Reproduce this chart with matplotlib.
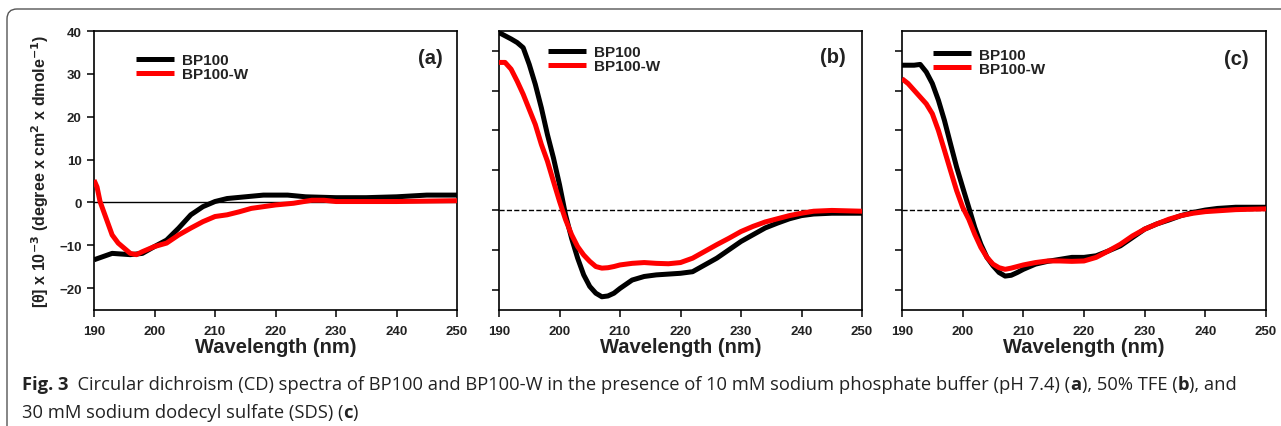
import numpy as np
import matplotlib.pyplot as plt
from matplotlib.path import Path
from matplotlib.patches import PathPatch

# -----------------------------
# DATA
# -----------------------------
# (a) 10 mM sodium phosphate buffer
wl_a_bp = [190, 193, 196, 198, 200, 202, 204, 206, 208, 210, 212, 215, 218, 222,
           225, 230, 235, 240, 245, 250]
cd_a_bp = [-13.4, -11.9, -12.2, -11.9, -10.3, -8.8, -6.0, -2.9, -1.0, 0.2, 0.9, 1.3,
           1.7, 1.7, 1.3, 1.1, 1.1, 1.3, 1.7, 1.7]
wl_a_w = [190, 190.5, 191, 192, 193, 194, 195, 196, 197, 198, 200, 202, 204, 206,
          208, 210, 212, 214, 216, 218, 220, 223, 226, 228, 230, 240, 250]
cd_a_w = [5.2, 3.6, 0.2, -3.7, -7.6, -9.5, -10.7, -11.9, -12.2, -11.5, -10.3, -9.5,
          -7.6, -6.0, -4.5, -3.3, -2.9, -2.2, -1.4, -1.0, -0.6, -0.2, 0.5, 0.5, 0.2,
          0.2, 0.4]

# (b) 50% TFE
wl_b = [190, 191, 192, 193, 194, 195, 196, 197, 198, 199, 200, 201, 202, 203, 204,
        205, 206, 207, 208, 209, 210, 212, 214, 216, 218, 220, 222, 224, 226, 228,
        230, 232, 234, 236, 238, 240, 242, 245, 250]
cd_b_bp = [44.6, 43.8, 43.0, 42.1, 40.8, 36.6, 31.6, 25.7, 19.0, 13.1, 6.4, -1.2,
           -7.1, -12.1, -16.3, -19.2, -20.9, -21.8, -21.6, -20.9, -19.7, -17.6,
           -16.7, -16.3, -16.1, -15.9, -15.5, -13.8, -12.1, -10.0, -7.9, -6.2, -4.5,
           -3.3, -2.2, -1.4, -1.0, -0.8, -0.8]
cd_b_w = [37.1, 37.1, 35.4, 32.4, 29.1, 25.3, 21.5, 16.5, 12.3, 7.2, 2.2, -2.4,
          -6.2, -9.2, -11.3, -12.9, -14.2, -14.6, -14.5, -14.2, -13.8, -13.4,
          -13.2, -13.4, -13.5, -13.2, -12.1, -10.4, -8.7, -7.1, -5.4, -4.1, -3.0,
          -2.2, -1.4, -0.8, -0.3, -0.1, -0.3]

# (c) 30 mM SDS
wl_c = [190, 191, 192, 193, 194, 195, 196, 197, 198, 199, 200, 201, 202, 203, 204,
        205, 206, 207, 208, 209, 210, 212, 214, 216, 218, 220, 222, 224, 226, 228,
        230, 232, 234, 236, 238, 240, 242, 245, 250]
cd_c_bp = [36.4, 36.4, 36.4, 36.6, 34.7, 31.8, 27.6, 22.5, 16.6, 10.8, 5.7, 0.7,
           -4.4, -8.6, -11.9, -14.0, -15.7, -16.6, -16.4, -15.7, -14.9, -13.6,
           -12.9, -12.4, -11.9, -11.9, -11.5, -10.3, -9.0, -6.9, -4.8, -3.5, -2.5,
           -1.4, -0.6, 0.0, 0.4, 0.7, 0.7]
cd_c_w = [33.0, 31.8, 30.1, 28.4, 26.7, 24.2, 20.0, 15.0, 9.9, 4.9, 0.7, -2.3, -6.1,
          -9.4, -11.9, -13.6, -14.5, -14.9, -14.6, -14.2, -13.8, -13.2, -12.8,
          -12.8, -12.9, -12.8, -11.9, -10.3, -8.6, -6.5, -4.8, -3.5, -2.3, -1.4,
          -0.8, -0.4, -0.2, 0.1, 0.3]

panel_tags = ["(a)", "(b)", "(c)"]
series_names = ["BP100", "BP100-W"]
x_ticks = [190, 200, 210, 220, 230, 240, 250]
y_ticks = [-20, -10, 0, 10, 20, 30, 40]

caption_1 = ("Circular dichroism (CD) spectra of BP100 and BP100-W in the presence of "
             "10 mM sodium phosphate buffer (pH 7.4) (")
caption_2 = "30 mM sodium dodecyl sulfate (SDS) ("

# -----------------------------
# FIGURE
# -----------------------------
W, H = 1281, 427
fig = plt.figure(figsize=(W / 100, H / 100), dpi=100)


def fx(px):
    return px / W


def fy(py):
    return 1 - py / H


# open frame: left + top edge with a rounded corner
rad = 10
verts = [(fx(7), fy(H + 5)), (fx(7), fy(10 + rad)), (fx(7), fy(10)),
         (fx(7 + rad), fy(10)), (fx(W + 5), fy(10))]
codes = [Path.MOVETO, Path.LINETO, Path.CURVE3, Path.CURVE3, Path.LINETO]
fig.patches.append(PathPatch(Path(verts, codes), transform=fig.transFigure,
                             fill=False, edgecolor="#555555", lw=1.0))

lefts = [94, 499, 902]
widths = [363, 363, 364]
ax_top, ax_bot = 32, 310.5
panels = [
    (wl_a_bp, cd_a_bp, wl_a_w, cd_a_w, (-25, 40), "-"),
    (wl_b, cd_b_bp, wl_b, cd_b_w, (-25, 45), "--"),
    (wl_c, cd_c_bp, wl_c, cd_c_w, (-25, 45), "--"),
]
legend_anchor = [(0.116, 0.869), (0.135, 0.899), (0.085, 0.890)]
tag_pos = [(0.961, 0.906), (0.956, 0.910), (0.953, 0.903)]

for i, (x1, y1, x2, y2, ylim, zstyle) in enumerate(panels):
    ax = fig.add_axes([fx(lefts[i]), fy(ax_bot), widths[i] / W, (ax_bot - ax_top) / H])
    ax.axhline(0, color="black", lw=1.0, ls=zstyle, zorder=1)
    ax.plot(x1, y1, color="black", lw=3.6, label=series_names[0], zorder=3,
            solid_capstyle="butt")
    ax.plot(x2, y2, color="#ff0000", lw=3.6, label=series_names[1], zorder=4,
            solid_capstyle="butt")
    ax.set_xlim(190, 250)
    ax.set_ylim(*ylim)
    ax.set_xticks(x_ticks)
    ax.set_yticks(y_ticks)
    ax.tick_params(direction="out", length=5, width=1.1, labelsize=9.5)
    ax.tick_params(axis="x", pad=6)
    ax.tick_params(axis="y", pad=4)
    for lab in ax.get_xticklabels():
        lab.set_fontweight("bold")
        lab.set_fontfamily("Liberation Sans")
        lab.set_color("#222222")
    if i == 0:
        for lab in ax.get_yticklabels():
            lab.set_fontweight("bold")
            lab.set_fontfamily("Liberation Sans")
            lab.set_color("#222222")
        ax.set_ylabel(r"[θ] x 10$^{\mathbf{-3}}$ (degree x cm$^{\mathbf{2}}$ x dmole$^{\mathbf{-1}}$)",
                      fontsize=11.5, fontweight="bold", family="Liberation Sans",
                      labelpad=6, color="#222222")
    else:
        ax.set_yticklabels([])
    for sp in ax.spines.values():
        sp.set_linewidth(1.2)
    ax.set_xlabel("Wavelength (nm)", fontsize=14.5, fontweight="bold",
                  family="Liberation Sans", labelpad=0, color="#222222")
    ax.text(*tag_pos[i], panel_tags[i], transform=ax.transAxes, ha="right",
            va="center", fontsize=14.5, fontweight="bold", family="Liberation Sans",
            color="#222222")
    leg = ax.legend(loc="center left", bbox_to_anchor=legend_anchor[i],
                    frameon=False, handlelength=2.5, handletextpad=0.5,
                    labelspacing=0.0, borderaxespad=0, borderpad=0,
                    prop={"family": "Liberation Sans", "weight": "bold", "size": 11})
    for t in leg.get_texts():
        t.set_color("#222222")

# caption
cap_font = "Open Sans"
cap_size = 13.2
t = fig.text(fx(22), fy(390), "Fig. 3", fontsize=cap_size, fontweight="bold",
             family=cap_font, va="baseline", color="#222222")
fig.canvas.draw()
r = fig.canvas.get_renderer()


def put(prev, s, bold=False):
    bb = prev.get_window_extent(renderer=r)
    return fig.text(bb.x1 / W, prev.get_position()[1], s, fontsize=cap_size,
                    fontweight="bold" if bold else "normal",
                    family=cap_font, va="baseline", color="#222222")


t = put(t, "  " + caption_1)
t = put(t, "a", bold=True)
t = put(t, "), 50% TFE (")
t = put(t, "b", bold=True)
t = put(t, "), and")
t2 = fig.text(fx(22), fy(418), caption_2, fontsize=cap_size, family=cap_font,
              va="baseline", color="#222222")
t2 = put(t2, "c", bold=True)
t2 = put(t2, ")")

fig.savefig("out.png", dpi=100)
